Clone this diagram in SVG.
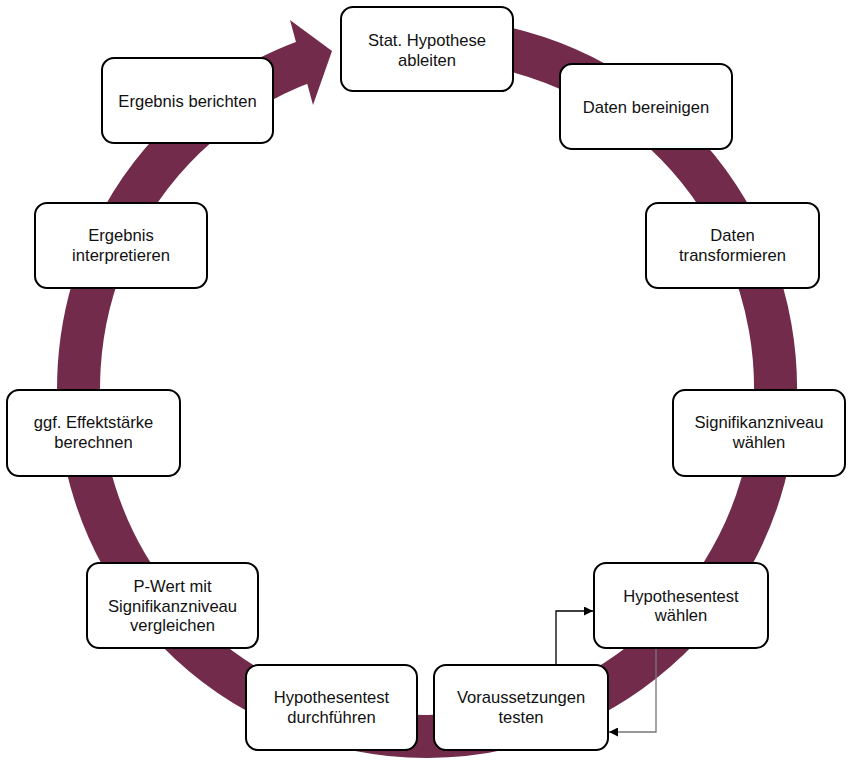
<svg xmlns="http://www.w3.org/2000/svg" width="854" height="769" viewBox="0 0 854 769">
<style>
.box{fill:#fff;stroke:#000;stroke-width:2}
.t{font-family:"Liberation Sans",Arial,sans-serif;font-size:16.6px;fill:#111;text-anchor:middle}
.conn{fill:none;stroke-width:1.3}
</style>
<defs>
<marker id="ah" viewBox="0 0 10 10" refX="10" refY="5" markerWidth="9" markerHeight="9" markerUnits="userSpaceOnUse" orient="auto">
<path d="M0,0 L10,5 L0,10 Z" fill="#000"/>
</marker>
</defs>
<g id="cycle">
<path d="M 396.6 40.8 A 348.5 348.5 0 0 1 517.2 724.6 A 348.5 348.5 0 0 1 307.8 60.5" fill="none" stroke="#722B4B" stroke-width="43"/>
<polygon points="290,20 332,51 313,105" fill="#722B4B"/>
</g>
<g id="connectors">
<path class="conn" d="M 556 665 V 611 H 593" stroke="#000" marker-end="url(#ah)"/>
<path class="conn" d="M 656 648 V 732 H 609" stroke="#777" marker-end="url(#ah)"/>
</g>
<g id="n1"><rect class="box" x="341" y="7" width="172" height="84" rx="12"/><text class="t" x="427" y="45.5">Stat. Hypothese</text><text class="t" x="427" y="65.5">ableiten</text></g>
<g id="n2"><rect class="box" x="560" y="64" width="172" height="85" rx="12"/><text class="t" x="646" y="112.5">Daten bereinigen</text></g>
<g id="n3"><rect class="box" x="646" y="203" width="173" height="85" rx="12"/><text class="t" x="732.5" y="240.5">Daten</text><text class="t" x="732.5" y="260.5">transformieren</text></g>
<g id="n4"><rect class="box" x="673" y="390" width="172" height="86" rx="12"/><text class="t" x="759" y="427.5">Signifikanzniveau</text><text class="t" x="759" y="447.5">wählen</text></g>
<g id="n5"><rect class="box" x="594" y="563" width="174" height="85" rx="12"/><text class="t" x="681" y="601.5">Hypothesentest</text><text class="t" x="681" y="621">wählen</text></g>
<g id="n6"><rect class="box" x="434" y="665" width="174" height="85" rx="12"/><text class="t" x="521" y="703">Voraussetzungen</text><text class="t" x="521" y="723">testen</text></g>
<g id="n7"><rect class="box" x="246" y="665" width="171" height="85" rx="12"/><text class="t" x="331.5" y="703">Hypothesentest</text><text class="t" x="331.5" y="723">durchführen</text></g>
<g id="n8"><rect class="box" x="87" y="563" width="171" height="85" rx="12"/><text class="t" x="172.5" y="591.5">P-Wert mit</text><text class="t" x="172.5" y="611.5">Signifikanzniveau</text><text class="t" x="172.5" y="631">vergleichen</text></g>
<g id="n9"><rect class="box" x="7" y="390" width="173" height="86" rx="12"/><text class="t" x="93.5" y="428">ggf. Effektstärke</text><text class="t" x="93.5" y="448">berechnen</text></g>
<g id="n10"><rect class="box" x="35" y="203" width="172" height="85" rx="12"/><text class="t" x="121" y="240.5">Ergebnis</text><text class="t" x="121" y="260.5">interpretieren</text></g>
<g id="n11"><rect class="box" x="102" y="58" width="171" height="85" rx="12"/><text class="t" x="187.5" y="107">Ergebnis berichten</text></g>
</svg>
